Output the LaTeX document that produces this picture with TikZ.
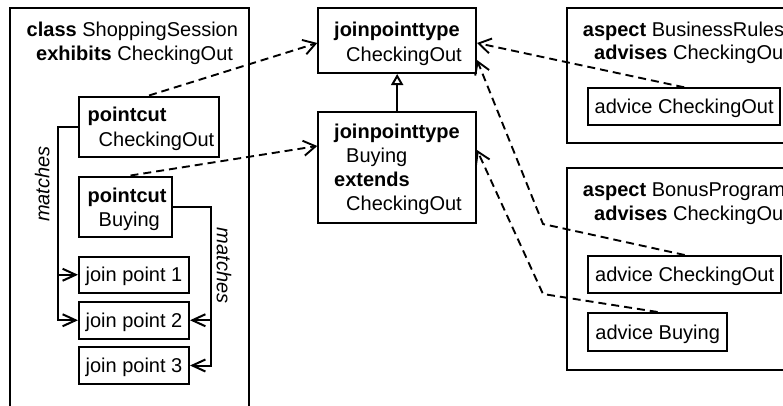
\documentclass[tikz,border=0pt]{standalone}
\usepackage{fontspec}
\setmainfont{Liberation Sans}
\usetikzlibrary{arrows.meta}
\begin{document}
\begin{tikzpicture}[x=1pt,y=-1pt,
  every node/.style={font=\fontsize{20}{24}\selectfont, inner sep=0pt},
  box/.style={draw, line width=2pt, inner sep=0pt},
  one/.style={text height=14pt, text depth=0pt},
  txt/.style={anchor=base west, inner sep=0pt},
  conn/.style={line width=2pt},
  dashconn/.style={line width=1.9pt, dash pattern=on 8pt off 5pt},
  barb/.style={-{Straight Barb[length=12pt,width=15pt]}},
  sbarb/.style={-{Straight Barb[length=13pt,width=12pt]}},
  inh/.style={-{Triangle[open,length=11pt,width=12pt]}}]
\useasboundingbox (0,0) rectangle (783,405);
\clip (0,0) rectangle (783,405);
% boxes
\node[box, minimum width=239pt, minimum height=432pt] (cls) at (129.5,224) {};
\node[box, minimum width=140pt, minimum height=60.5pt] (pcCO) at (149,126.75) {};
\node[box, minimum width=93pt, minimum height=60.5pt] (pcB) at (125.5,206.75) {};
\node[box, one, minimum width=110pt, minimum height=36.5pt] (jp1) at (134,274.75) {join point 1};
\node[box, one, minimum width=110pt, minimum height=36.5pt] (jp2) at (134,320.25) {join point 2};
\node[box, one, minimum width=110pt, minimum height=37pt] (jp3) at (134,365.5) {join point 3};
\node[box, minimum width=157.7pt, minimum height=64.7pt] (jptCO) at (397.15,40.65) {};
\node[box, minimum width=157.7pt, minimum height=111pt] (jptB) at (397.15,167.5) {};
\node[box, minimum width=233.3pt, minimum height=134.4pt] (aspBR) at (683.35,75.5) {};
\node[box, one, minimum width=191.7pt, minimum height=36.7pt] (advBR) at (684.15,106.65) {advice CheckingOut};
\node[box, minimum width=233.3pt, minimum height=201.7pt] (aspBP) at (683.35,269.15) {};
\node[box, one, minimum width=192.7pt, minimum height=37.3pt] (advBPCO) at (684.65,274.65) {advice CheckingOut};
\node[box, one, minimum width=138.7pt, minimum height=38pt] (advBPB) at (657.65,332) {advice Buying};
% texts
\node[txt] (tc1) at (26.5,36.5) {\textbf{class} ShoppingSession};
\node[txt] (tc2) at (36,60.5) {\textbf{exhibits} CheckingOut};
\node[txt] (tp1) at (87.5,121.5) {\textbf{pointcut}};
\node[txt] (tp2) at (98.5,146.5) {CheckingOut};
\node[txt] (tp3) at (87.5,202) {\textbf{pointcut}};
\node[txt] (tp4) at (98.5,226.5) {Buying};
\node[txt] (tj1) at (334,36.7) {\textbf{joinpointtype}};
\node[txt] (tj2) at (346,61) {CheckingOut};
\node[txt] (tj3) at (334,138.3) {\textbf{joinpointtype}};
\node[txt] (tj4) at (346,162.3) {Buying};
\node[txt] (tj5) at (334,186.3) {\textbf{extends}};
\node[txt] (tj6) at (346,210.3) {CheckingOut};
\node[txt] (ta1) at (582.7,36.7) {\textbf{aspect} BusinessRules};
\node[txt] (ta2) at (594,59.5) {\textbf{advises} CheckingOut};
\node[txt] (ta3) at (582.7,196.7) {\textbf{aspect} BonusProgram};
\node[txt] (ta4) at (594,220) {\textbf{advises} CheckingOut};
\node[rotate=90, font=\fontsize{20}{24}\selectfont\itshape] (m1) at (42.3,184) {matches};
\node[rotate=-90, font=\fontsize{20}{24}\selectfont\itshape] (m2) at (224,265.5) {matches};
% matches connectors
\coordinate (lbus) at ([xshift=-20pt]pcCO.west);
\coordinate (rbus) at ([xshift=38pt]pcB.east);
\draw[conn, sbarb] (pcCO.west) -- (lbus) |- (jp2.west);
\draw[conn, sbarb] (lbus |- jp1.west) -- (jp1.west);
\draw[conn, sbarb] (pcB.east) -- (rbus) |- (jp3.east);
\draw[conn, sbarb] (rbus |- jp2.east) -- (jp2.east);
% inheritance
\draw[conn, inh] (jptB.north) -- (jptCO.south);
% dashed connectors
\coordinate (bend1) at (543,224);
\coordinate (bend2) at (543,294);
\draw[dashconn, barb] (pcCO.north) -- ([yshift=-2.35pt]jptCO.west);
\draw[dashconn, barb] ([xshift=5pt]pcB.north) -- ([yshift=21.5pt]jptB.west);
\draw[dashconn, barb] (advBR.north) -- ([yshift=-2.35pt]jptCO.east);
\draw[dashconn, barb] (advBPCO.north) -- (bend1) -- ([yshift=-19.35pt]jptCO.east);
\draw[dashconn, barb] (advBPB.north) -- (bend2) -- ([yshift=17.5pt]jptB.east);
\end{tikzpicture}
\end{document}
